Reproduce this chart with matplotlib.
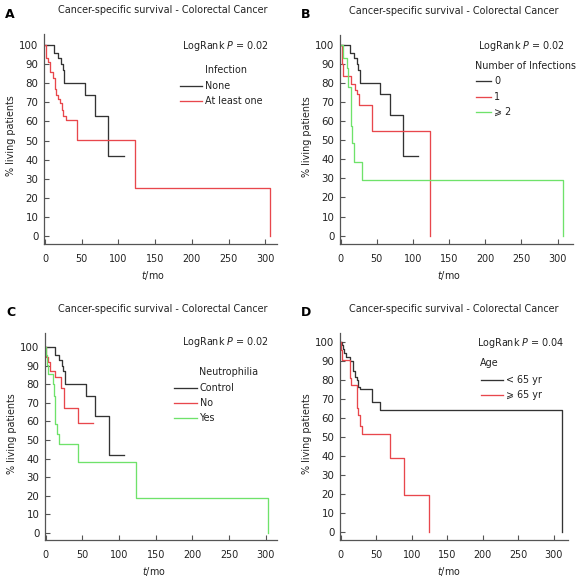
import numpy as np
import matplotlib
matplotlib.use("Agg")
import matplotlib.pyplot as plt

# --------------------------------------------------
# Data
# time in months, survival in %
# --------------------------------------------------
title = "Cancer-specific survival - Colorectal Cancer"

# control group (no infection) - same in A, B and C
none_t = [0, 12.5, 18, 22, 24, 26.5, 54.5, 67.5, 86, 107]
none_s = [100, 96, 93, 90, 87, 80, 74, 63, 42, 42]

# A: at least one infection
any_t = [0, 1, 2, 3.5, 7, 11, 13.5, 15, 17, 20, 23, 25, 28.5, 43.5, 123, 307, 307]
any_s = [100, 97, 93, 91, 86, 83, 77, 74, 72, 69.5, 66, 63, 60.5, 50.5, 25, 0, 0]

# B: number of infections
one_t = [0, 1.5, 3.7, 13.8, 19.8, 22.5, 25.8, 43.5, 124, 124]
one_s = [100, 90, 83.5, 79.5, 76.5, 74, 68.5, 55, 0, 0]
two_t = [0, 3.7, 9.2, 10.5, 13.8, 14.5, 15.7, 18.9, 30, 307, 307]
two_s = [100, 93, 88, 78, 66, 57.5, 48.5, 38.5, 29, 0, 0]

# C: neutrophilia
neu_no_t = [0, 1, 2.5, 6, 13, 20.5, 25.5, 43.5, 65]
neu_no_s = [100, 95, 92, 87, 84, 78, 67.5, 59, 59]
neu_yes_t = [0, 0.5, 2.3, 3.6, 9.5, 11, 12.5, 13.2, 15.8, 18.2, 43.5, 123, 303, 303]
neu_yes_s = [100, 96, 90.5, 85.5, 80, 74, 64, 58.5, 53.5, 48, 38, 19, 0, 0]

# D: age
young_t = [0, 1.8, 2.8, 5, 7.5, 13, 18, 20, 22.5, 25, 27, 43.5, 56, 312, 312]
young_s = [100, 98.5, 96, 94, 92, 90, 84.5, 81.5, 80, 76.5, 75, 68.5, 64, 0, 0]
old_t = [0, 0.4, 1.4, 12.5, 13, 14.5, 15.5, 22.5, 23.5, 25, 27, 30.5, 69.5, 89, 125, 125]
old_s = [100, 95.5, 90.5, 84.5, 81, 77.5, 77.5, 71, 65, 61.5, 56, 51.5, 39, 19.5, 0, 0]

panels = [
    dict(letter="A", p="0.02", legend_title="Infection",
         curves=[(none_t, none_s, "None", "k"), (any_t, any_s, "At least one", "r")]),
    dict(letter="B", p="0.02", legend_title="Number of Infections",
         curves=[(none_t, none_s, "0", "k"), (one_t, one_s, "1", "r"),
                 (two_t, two_s, "\u2a7e 2", "g")]),
    dict(letter="C", p="0.02", legend_title="Neutrophilia",
         curves=[(none_t, none_s, "Control", "k"), (neu_no_t, neu_no_s, "No", "r"),
                 (neu_yes_t, neu_yes_s, "Yes", "g")]),
    dict(letter="D", p="0.04", legend_title="Age",
         curves=[(young_t, young_s, "< 65 yr", "k"), (old_t, old_s, "\u2a7e 65 yr", "r")]),
]

colors = {"k": "#333333", "r": "#e8474c", "g": "#6fe26a"}

# --------------------------------------------------
# Layout helpers (figure pixels, top-left origin)
# --------------------------------------------------
W, H = 583, 580
fx = lambda px: px / W
fy = lambda py: 1 - py / H

plt.rcParams["font.family"] = ["DejaVu Sans"]
plt.rcParams["mathtext.fontset"] = "dejavusans"
fs = 6.9

fig = plt.figure(figsize=(W / 100, H / 100), dpi=100)

# axes boxes: left, right, top, bottom, xlim, ylim
boxes = [
    (44, 277, 34, 244, (-1.4, 316), (-4.2, 105.8)),
    (340, 572.7, 35, 244, (-1.0, 321), (-4.4, 105.2)),
    (45, 277, 333, 540, (-1.0, 315.5), (-3.9, 107.7)),
    (340, 568, 333, 540, (-1.0, 320), (-4.1, 104.6)),
]

# legend positions: (logrank right x, logrank y, title x, title y, line x0, line x1, first row y, row step)
legpos = [
    (269, 46, 205, 70, 180, 202, 86, 14.7),
    (565, 46, 475, 66, 476, 491, 81, 15.5),
    (269, 342, 199, 372, 174, 197, 388, 15.0),
    (565, 343, 480, 363, 481, 503, 380, 14.5),
]

for panel, (l, r, t, b, xl, yl), lp in zip(panels, boxes, legpos):
    ax = fig.add_axes([fx(l), fy(b), fx(r) - fx(l), (b - t) / H])
    handles = []
    for tt, ss, lab, c in panel["curves"]:
        h, = ax.plot(tt, ss, drawstyle="steps-post", color=colors[c], lw=0.95)
        handles.append(h)

    ax.set_xlim(*xl)
    ax.set_ylim(*yl)
    ax.set_xticks([0, 50, 100, 150, 200, 250, 300])
    ax.set_yticks(np.arange(0, 101, 10))
    for side in ["top", "right"]:
        ax.spines[side].set_visible(False)
    for side in ["left", "bottom"]:
        ax.spines[side].set_color("#555555")
        ax.spines[side].set_linewidth(0.9)
    ax.tick_params(direction="in", length=3.5, width=0.8, color="#555555",
                   labelsize=fs, labelcolor="#222222")
    ax.tick_params(axis="x", pad=7)
    ax.tick_params(axis="y", pad=4, labelsize=7.4)

    # legend
    lr_x, lr_y, tx, ty, x0, x1, y0, dy = lp
    fig.text(fx(lr_x), fy(lr_y), "LogRank $P$ = " + panel["p"], ha="right",
             va="center", fontsize=fs, color="#222222")
    fig.text(fx(tx), fy(ty), panel["legend_title"], ha="left", va="center",
             fontsize=fs, color="#222222")
    for i, ((_, _, lab, c), h) in enumerate(zip(panel["curves"], handles)):
        yy = fy(y0 + i * dy)
        fig.add_artist(plt.Line2D([fx(x0), fx(x1)], [yy, yy], color=colors[c], lw=0.95,
                                  transform=fig.transFigure))
        fig.text(fx(x1 + 3), yy, lab, ha="left", va="center", fontsize=fs,
                 color="#222222")

    # titles, axis labels, panel letter
    fig.text(fx(163 if l < 100 else 454), fy(t - 24), title, ha="center",
             va="center", fontsize=fs, color="#222222")
    fig.text(fx(l - 33), fy((t + b) / 2 - 3), "% living patients", rotation=90,
             ha="center", va="center", fontsize=fs, color="#222222")
    fig.text(fx(l + 109), fy(b + 31), "$t$/mo", ha="center", va="center",
             fontsize=fs, color="#222222")
    fig.text(fx(l - 34), fy(t - 20), panel["letter"], ha="center", va="center",
             fontsize=9, fontweight="bold")

fig.savefig("out.png", dpi=100)
